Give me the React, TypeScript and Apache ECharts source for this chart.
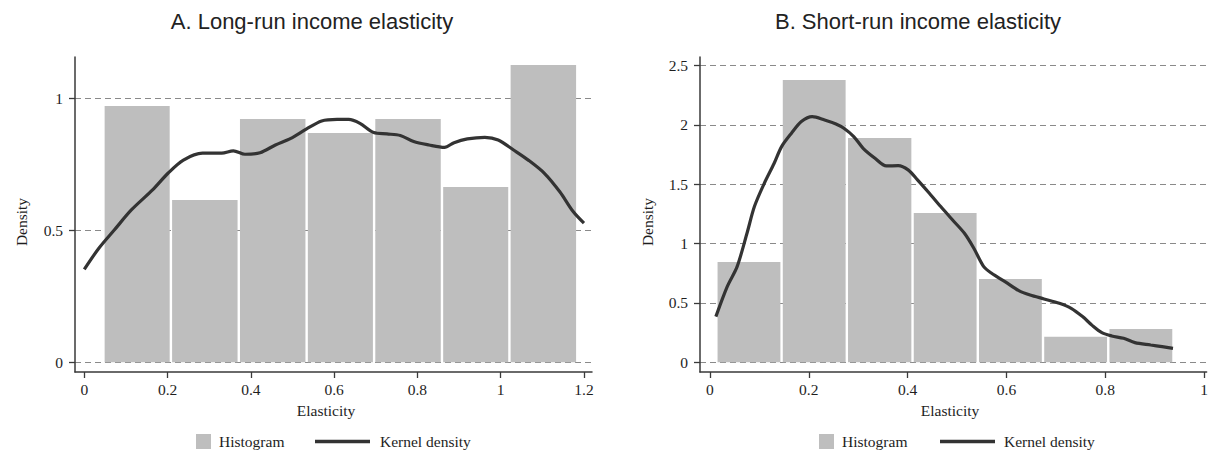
import React, { useEffect, useRef } from 'react';
import * as echarts from 'echarts';

// ---- Data ----
const titles = ['A. Long-run income elasticity', 'B. Short-run income elasticity'];
const xName = 'Elasticity';
const yName = 'Density';
const legendNames = ['Histogram', 'Kernel density'];

const xTicksA = [0, 0.2, 0.4, 0.6, 0.8, 1, 1.2];
const yTicksA = [0, 0.5, 1];
const xTicksB = [0, 0.2, 0.4, 0.6, 0.8, 1];
const yTicksB = [0, 0.5, 1, 1.5, 2, 2.5];

const binEdgesA = [0.046, 0.208, 0.371, 0.534, 0.696, 0.859, 1.021, 1.184];
const histA = [0.971, 0.615, 0.922, 0.869, 0.922, 0.664, 1.126];
const binEdgesB = [0.013, 0.145, 0.277, 0.41, 0.542, 0.674, 0.806, 0.938];
const histB = [0.846, 2.379, 1.89, 1.258, 0.702, 0.216, 0.281];

const kdeA: [number, number][] = [
  [0, 0.352], [0.035, 0.432], [0.072, 0.501], [0.113, 0.577], [0.164, 0.653],
  [0.201, 0.716], [0.238, 0.766], [0.284, 0.792], [0.33, 0.792], [0.358, 0.801],
  [0.386, 0.788], [0.422, 0.794], [0.459, 0.823], [0.496, 0.848], [0.533, 0.883],
  [0.57, 0.914], [0.607, 0.92], [0.635, 0.92], [0.662, 0.905], [0.695, 0.87],
  [0.727, 0.865], [0.759, 0.859], [0.791, 0.836], [0.828, 0.823], [0.865, 0.814],
  [0.888, 0.832], [0.92, 0.846], [0.962, 0.852], [0.994, 0.842], [1.031, 0.804],
  [1.068, 0.764], [1.105, 0.716], [1.142, 0.646], [1.174, 0.571], [1.2, 0.527],
];

const kdeB: [number, number][] = [
  [0.012, 0.385], [0.035, 0.638], [0.055, 0.806], [0.075, 1.087], [0.09, 1.312],
  [0.11, 1.508], [0.13, 1.677], [0.145, 1.817], [0.165, 1.93], [0.185, 2.028],
  [0.207, 2.07], [0.232, 2.042], [0.255, 2.008], [0.271, 1.972], [0.291, 1.902],
  [0.31, 1.803], [0.334, 1.719], [0.357, 1.654], [0.381, 1.657], [0.401, 1.621],
  [0.42, 1.537], [0.444, 1.424], [0.467, 1.312], [0.491, 1.199], [0.515, 1.087],
  [0.534, 0.961], [0.554, 0.806], [0.57, 0.75], [0.597, 0.68], [0.625, 0.604],
  [0.648, 0.567], [0.676, 0.534], [0.707, 0.497], [0.731, 0.455], [0.754, 0.385],
  [0.774, 0.309], [0.793, 0.25], [0.813, 0.222], [0.837, 0.202], [0.86, 0.166],
  [0.892, 0.146], [0.915, 0.132], [0.937, 0.118],
];

// ---- Styles ----
const BAR = '#bebebe';
const LINE = '#333333';
const AXIS = '#3a3a3a';
const TXT = '#1e1e1e';
const SERIF = '"Liberation Serif", "Times New Roman", serif';
const SANS = '"Liberation Sans", Arial, Helvetica, sans-serif';
const FS = 15.5;

function histData(edges: number[], h: number[]) {
  return h.map((v, i) => [edges[i], edges[i + 1], v]);
}

function xAxisOpt(gridIndex: number, min: number, max: number, ticks: number[]) {
  return {
    type: 'value', gridIndex, min, max,
    axisLine: { show: true, onZero: false, lineStyle: { color: AXIS, width: 1.5 } },
    axisTick: { show: true, length: 6, customValues: ticks, lineStyle: { color: AXIS, width: 1.3 } },
    axisLabel: { customValues: ticks, margin: 9, color: TXT, fontFamily: SERIF, fontSize: FS },
    splitLine: { show: false },
  };
}

function yAxisOpt(gridIndex: number, min: number, max: number, ticks: number[]) {
  return {
    type: 'value', gridIndex, min, max,
    axisLine: { show: true, onZero: false, lineStyle: { color: AXIS, width: 1.5 } },
    axisTick: { show: true, length: 6, customValues: ticks, lineStyle: { color: AXIS, width: 1.3 } },
    axisLabel: { customValues: ticks, margin: 12, color: TXT, fontFamily: SERIF, fontSize: FS },
    splitLine: { show: true, lineStyle: { color: '#8a8a8a', width: 1, type: [6, 4] } },
  };
}

function histSeries(idx: number, data: number[][]) {
  return {
    type: 'custom', name: legendNames[0], xAxisIndex: idx, yAxisIndex: idx,
    data, encode: { x: [0, 1], y: 2 },
    renderItem: (_p: any, api: any) => {
      const p0 = api.coord([api.value(0), api.value(2)]);
      const p1 = api.coord([api.value(1), 0]);
      return {
        type: 'rect',
        shape: { x: p0[0] + 1.2, y: p0[1], width: p1[0] - p0[0] - 2.4, height: p1[1] - p0[1] },
        style: { fill: BAR },
      };
    },
    z: 2,
  };
}

function kdeSeries(idx: number, data: [number, number][]) {
  return {
    type: 'line', name: legendNames[1], xAxisIndex: idx, yAxisIndex: idx,
    data, symbol: 'none', smooth: 0.3,
    lineStyle: { color: LINE, width: 3.2 },
    z: 3,
  };
}

function legendGraphic(sqX: number, t1X: number, lnX: number, t2X: number) {
  const cy = 441.5;
  return [
    { type: 'rect', shape: { x: sqX, y: cy - 7.5, width: 15, height: 15 }, style: { fill: BAR } },
    { type: 'text', x: t1X, y: cy, style: { text: legendNames[0], font: `${FS}px ${SERIF}`, fill: TXT, align: 'left', verticalAlign: 'middle' } },
    { type: 'line', shape: { x1: lnX, y1: cy, x2: lnX + 55, y2: cy }, style: { stroke: LINE, lineWidth: 3.5 } },
    { type: 'text', x: t2X, y: cy, style: { text: legendNames[1], font: `${FS}px ${SERIF}`, fill: TXT, align: 'left', verticalAlign: 'middle' } },
  ];
}

export default function App() {
  const ref = useRef<HTMLDivElement>(null);
  useEffect(() => {
    if (!ref.current) return;
    const chart = echarts.init(ref.current, undefined, { renderer: 'svg' });
    const option: any = {
      animation: false,
      backgroundColor: '#ffffff',
      grid: [
        { left: 75, top: 57, width: 517, height: 315 },
        { left: 700, top: 57, width: 511, height: 315 },
      ],
      xAxis: [
        xAxisOpt(0, -0.0223, 1.2193, xTicksA),
        xAxisOpt(1, -0.0201, 1.005, xTicksB),
      ],
      yAxis: [
        yAxisOpt(0, -0.0367, 1.1564, yTicksA),
        yAxisOpt(1, -0.0817, 2.572, yTicksB),
      ],
      series: [
        histSeries(0, histData(binEdgesA, histA)),
        kdeSeries(0, kdeA),
        histSeries(1, histData(binEdgesB, histB)),
        kdeSeries(1, kdeB),
      ],
      graphic: [
        { type: 'text', x: 312, y: 21, style: { text: titles[0], font: `22px ${SANS}`, fill: '#222', align: 'center', verticalAlign: 'middle' } },
        { type: 'text', x: 918, y: 21, style: { text: titles[1], font: `22px ${SANS}`, fill: '#222', align: 'center', verticalAlign: 'middle' } },
        { type: 'text', x: 21.7, y: 222, rotation: Math.PI / 2, style: { text: yName, font: `${FS}px ${SERIF}`, fill: TXT, align: 'center', verticalAlign: 'middle' } },
        { type: 'text', x: 647, y: 222, rotation: Math.PI / 2, style: { text: yName, font: `${FS}px ${SERIF}`, fill: TXT, align: 'center', verticalAlign: 'middle' } },
        { type: 'text', x: 326, y: 410, style: { text: xName, font: `${FS}px ${SERIF}`, fill: TXT, align: 'center', verticalAlign: 'middle' } },
        { type: 'text', x: 950, y: 410, style: { text: xName, font: `${FS}px ${SERIF}`, fill: TXT, align: 'center', verticalAlign: 'middle' } },
        ...legendGraphic(196, 219, 315, 380),
        ...legendGraphic(819, 842, 940, 1004),
      ],
    };
    chart.setOption(option);
    return () => chart.dispose();
  }, []);
  return <div ref={ref} style={{ width: 1211, height: 450, position: 'absolute', left: 0, top: 0 }} />;
}
